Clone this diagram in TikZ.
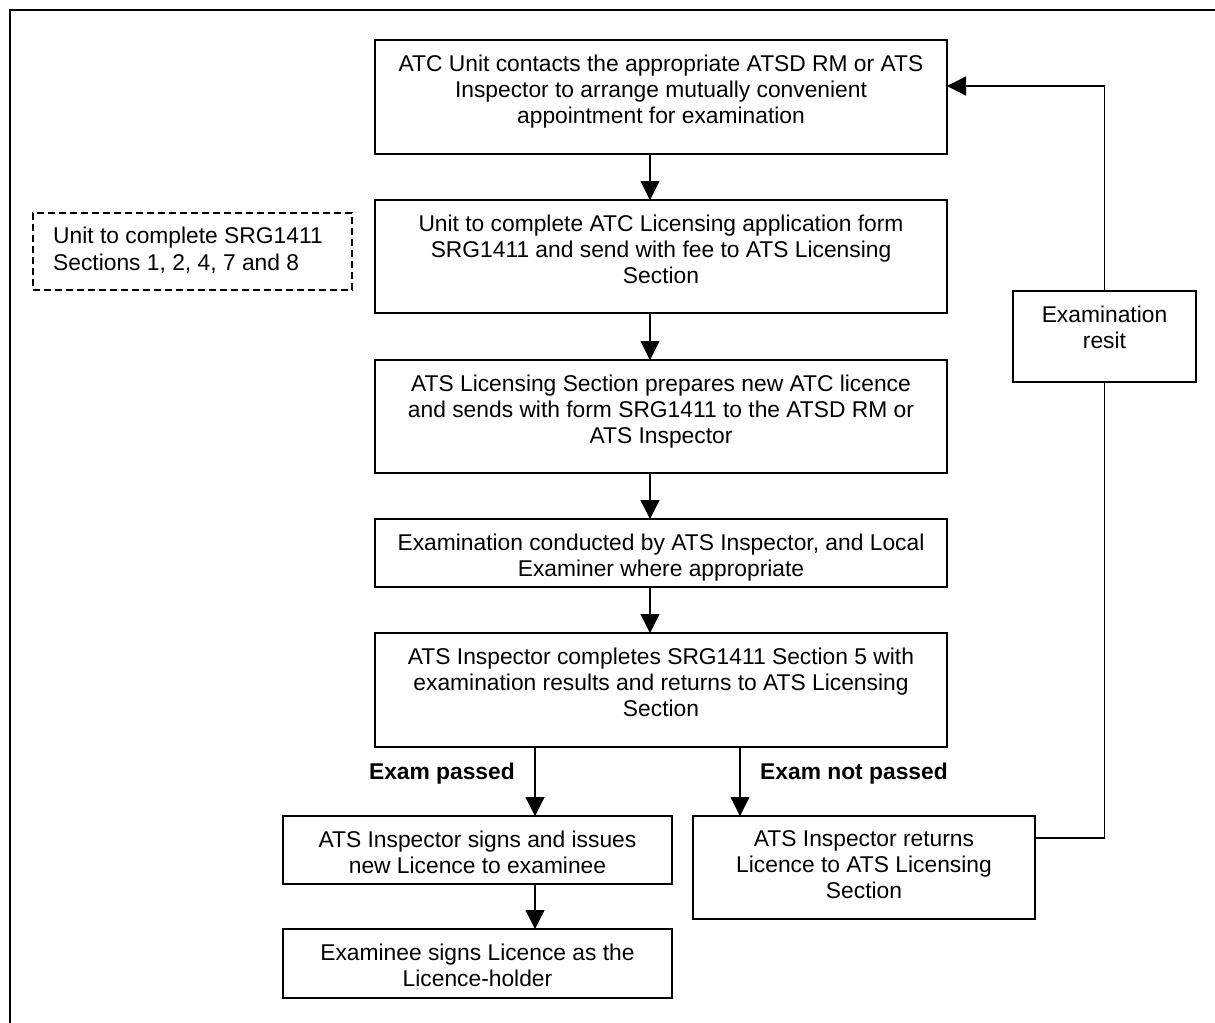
\documentclass[tikz,border=0pt]{standalone}
\usepackage{fontspec}
\setmainfont{Liberation Sans}
\usetikzlibrary{arrows.meta}
\begin{document}
\begin{tikzpicture}[x=1bp,y=-1bp,
  box/.style={draw, line width=1.3bp, inner sep=0pt, outer sep=0pt},
  mainbox/.style={box, minimum width=572bp},
  txt/.style={inner sep=0pt, align=center, anchor=north, font=\fontsize{22.8bp}{26bp}\selectfont},
  lbl/.style={inner sep=0pt, font=\fontsize{22.8bp}{26bp}\selectfont\bfseries},
  arr/.style={line width=1.3bp, -{Triangle[length=19bp,width=19bp]}},
  conn/.style={line width=1.3bp}]
\useasboundingbox (0,0) rectangle (1215,1023);
\draw[line width=1.6bp] (10,1023) -- (10,10) -- (1215,10);

% boxes
\node[mainbox, minimum height=114bp] (b1) at (661,97) {};
\node[mainbox, minimum height=113bp] (b2) at (661,256.5) {};
\node[mainbox, minimum height=113bp] (b3) at (661,416.5) {};
\node[mainbox, minimum height=68bp] (b4) at (661,553) {};
\node[mainbox, minimum height=114bp] (b5) at (661,690) {};
\node[box, minimum width=389bp, minimum height=68bp] (b6) at (477.5,850) {};
\node[box, minimum width=342bp, minimum height=103bp] (b7) at (864,867.5) {};
\node[box, minimum width=389bp, minimum height=69bp] (b8) at (477.5,963.5) {};
\node[box, minimum width=183bp, minimum height=91bp] (rs) at (1104.5,336.5) {};
\node[box, dash pattern=on 7bp off 4bp, minimum width=319bp, minimum height=77bp] (dn) at (192.5,251.5) {};

% texts
\node[txt] (t1) at ([yshift=-14.7bp]b1.north) {ATC Unit contacts the appropriate ATSD RM or ATS\\Inspector to arrange mutually convenient\\appointment for examination};
\node[txt] (t2) at ([yshift=-14.7bp]b2.north) {Unit to complete ATC Licensing application form\\SRG1411 and send with fee to ATS Licensing\\Section};
\node[txt] (t3) at ([yshift=-14.7bp]b3.north) {ATS Licensing Section prepares new ATC licence\\and sends with form SRG1411 to the ATSD RM or\\ATS Inspector};
\node[txt] (t4) at ([yshift=-14.7bp]b4.north) {Examination conducted by ATS Inspector, and Local\\Examiner where appropriate};
\node[txt] (t5) at ([yshift=-14.7bp]b5.north) {ATS Inspector completes SRG1411 Section 5 with\\examination results and returns to ATS Licensing\\Section};
\node[txt] (t6) at ([yshift=-14.7bp]b6.north) {ATS Inspector signs and issues\\new Licence to examinee};
\node[txt] (t7) at ([yshift=-14.7bp]b7.north) {ATS Inspector returns\\Licence to ATS Licensing\\Section};
\node[txt] (t8) at ([yshift=-14.7bp]b8.north) {Examinee signs Licence as the\\Licence-holder};
\node[txt] (tr) at ([yshift=-14.7bp]rs.north) {Examination\\resit};
\node[txt, align=left, anchor=north west, font=\fontsize{22.8bp}{27bp}\selectfont] (dt) at (53,226.7) {Unit to complete SRG1411\\Sections 1, 2, 4, 7 and 8};

% labels
\node[lbl, anchor=base east] (lp) at (515,779) {Exam passed};
\node[lbl, anchor=base west] (lnp) at (760,779) {Exam not passed};

% connectors
\coordinate (ax) at (650,0);
\coordinate (px) at (535,0);
\coordinate (nx) at (740,0);
\coordinate (ry1) at (0,838);
\coordinate (ry2) at (0,86);
\draw[arr] (b1.south -| ax) -- (b2.north -| ax);
\draw[arr] (b2.south -| ax) -- (b3.north -| ax);
\draw[arr] (b3.south -| ax) -- (b4.north -| ax);
\draw[arr] (b4.south -| ax) -- (b5.north -| ax);
\draw[arr] (b5.south -| px) -- (b6.north -| px);
\draw[arr] (b5.south -| nx) -- (b7.north -| nx);
\draw[arr] (b6.south -| px) -- (b8.north -| px);
\draw[conn] (b7.east |- ry1) -- (rs.south |- ry1) -- (rs.south);
\draw[arr] (rs.north) -- (rs.north |- ry2) -- (b1.east |- ry2);
\end{tikzpicture}
\end{document}
